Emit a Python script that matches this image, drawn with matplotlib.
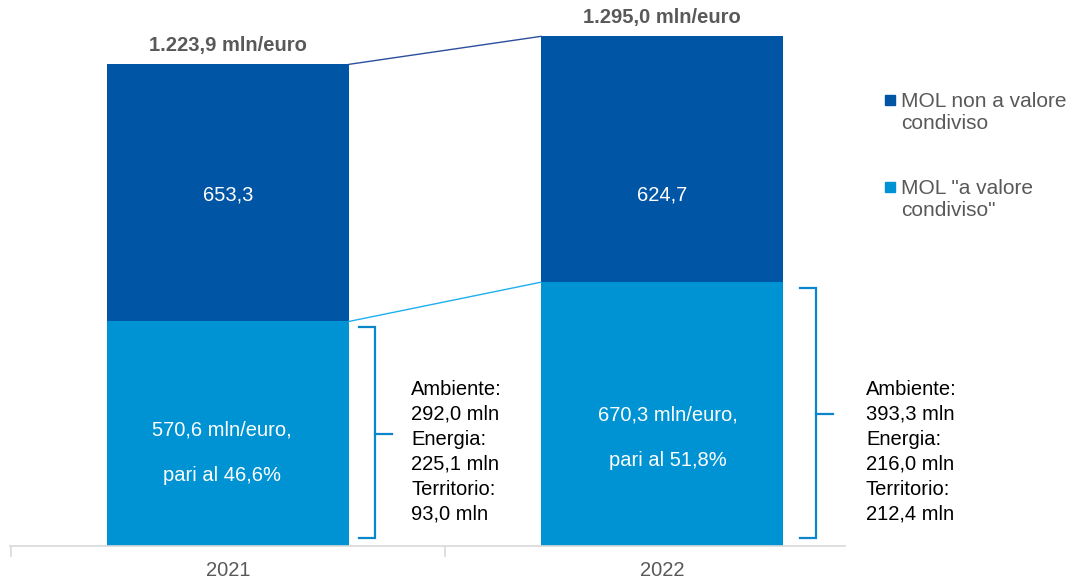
import matplotlib
matplotlib.use("Agg")
import matplotlib.pyplot as plt
from matplotlib.patches import Rectangle

# ---------------- data ----------------
years = ["2021", "2022"]
mol_condiviso = [570.6, 670.3]          # MOL "a valore condiviso"
mol_non_condiviso = [653.3, 624.7]      # MOL non a valore condiviso
totale = [1223.9, 1295.0]
series_names = ['MOL non a valore\ncondiviso', 'MOL "a valore\ncondiviso"']
quota_pct = [46.6, 51.8]
ambiente = [292.0, 393.3]
energia = [225.1, 216.0]
territorio = [93.0, 212.4]


def it(v, dec=1):
    s = f"{v:,.{dec}f}"
    return s.replace(",", "X").replace(".", ",").replace("X", ".")


# ---------------- style ----------------
FONT = "Liberation Sans"
plt.rcParams["font.family"] = [FONT, "DejaVu Sans"]
DARK = "#0055A4"
LIGHT = "#0093D3"
GRAY = "#595959"
FS = 14.5

W, H = 1075, 583
fig = plt.figure(figsize=(W / 100, H / 100), dpi=100)
ax = fig.add_axes([10 / W, 37 / H, 835 / W, 536 / H])

x = list(range(len(years)))
bw = 0.5576
ax.bar(x, mol_condiviso, width=bw, color=LIGHT, zorder=2)
ax.bar(x, mol_non_condiviso, width=bw, bottom=mol_condiviso, color=DARK, zorder=2)

ax.set_xlim(-0.502, 1.4217)
ax.set_ylim(0, 1362)

# connector lines
ax.plot([x[0] + bw / 2, x[1] - bw / 2], [totale[0], totale[1]], color="#2B4F9E", lw=1.0, zorder=3)
ax.plot([x[0] + bw / 2, x[1] - bw / 2], [mol_condiviso[0], mol_condiviso[1]], color="#1EB0EE", lw=1.0, zorder=3)

# axes styling
for s in ["top", "right", "left"]:
    ax.spines[s].set_visible(False)
ax.spines["bottom"].set_color("#D9D9D9")
ax.spines["bottom"].set_linewidth(1.2)
ax.set_yticks([])
ax.set_xticks([-0.5, 0.5], minor=False)
ax.set_xticks(x, minor=True)
ax.set_xticklabels([])
ax.set_xticklabels(years, minor=True, color=GRAY, fontsize=FS)
ax.tick_params(axis="x", which="major", length=8, color="#D9D9D9", width=1.2, direction="out")
ax.tick_params(axis="x", which="minor", length=0, pad=11)

# labels
top_label_y = [892, 892]
shared_y1 = [295, 333]
shared_y2 = [178, 216]
text_dx = [-0.014, 0.014]
for i in x:
    ax.annotate(f"{it(totale[i])} mln/euro", (x[i], totale[i]), xytext=(0, 7),
                textcoords="offset points", ha="center", va="bottom",
                fontsize=FS, fontweight="bold", color=GRAY)
    ax.text(x[i], top_label_y[i], it(mol_non_condiviso[i]), ha="center", va="center",
            color="white", fontsize=FS)
    ax.text(x[i] + text_dx[i], shared_y1[i], f"{it(mol_condiviso[i])} mln/euro,", ha="center",
            va="center", color="white", fontsize=FS)
    ax.text(x[i] + text_dx[i], shared_y2[i], f"pari al {it(quota_pct[i])}%", ha="center",
            va="center", color="white", fontsize=FS)

# brackets + breakdown
BR = "#0A87CC"
br_dx = [0.339, 0.355]
br_txt_dx = [0.422, 0.470]
tick = 0.038
for i in x:
    xv = x[i] + br_dx[i]
    lo, hi = 20, mol_condiviso[i] - 15
    mid = mol_condiviso[i] / 2
    ax.plot([xv - tick, xv, xv, xv - tick], [hi, hi, lo, lo], color=BR, lw=1.6,
            solid_joinstyle="miter", clip_on=False, zorder=3)
    ax.plot([xv, xv + tick], [mid, mid], color=BR, lw=1.6, clip_on=False, zorder=3)
    txt = (f"Ambiente:\n{it(ambiente[i])} mln\nEnergia:\n{it(energia[i])} mln\n"
           f"Territorio:\n{it(territorio[i])} mln")
    ax.text(x[i] + br_txt_dx[i], 239, txt, ha="left", va="center", fontsize=FS,
            color="black", linespacing=1.40)

# legend (manual)
leg_colors = [DARK, LIGHT]
leg_y = [100, 187]
for name, c, yy in zip(series_names, leg_colors, leg_y):
    fig.patches.append(Rectangle((885 / W, 1 - (yy + 5) / H), 10 / W, 10 / H,
                                 transform=fig.transFigure, color=c))
    fig.text(901 / W, 1 - (yy - 8) / H, name, ha="left", va="top", fontsize=15,
             color=GRAY, linespacing=1.2)

fig.savefig("out.png", dpi=100)
